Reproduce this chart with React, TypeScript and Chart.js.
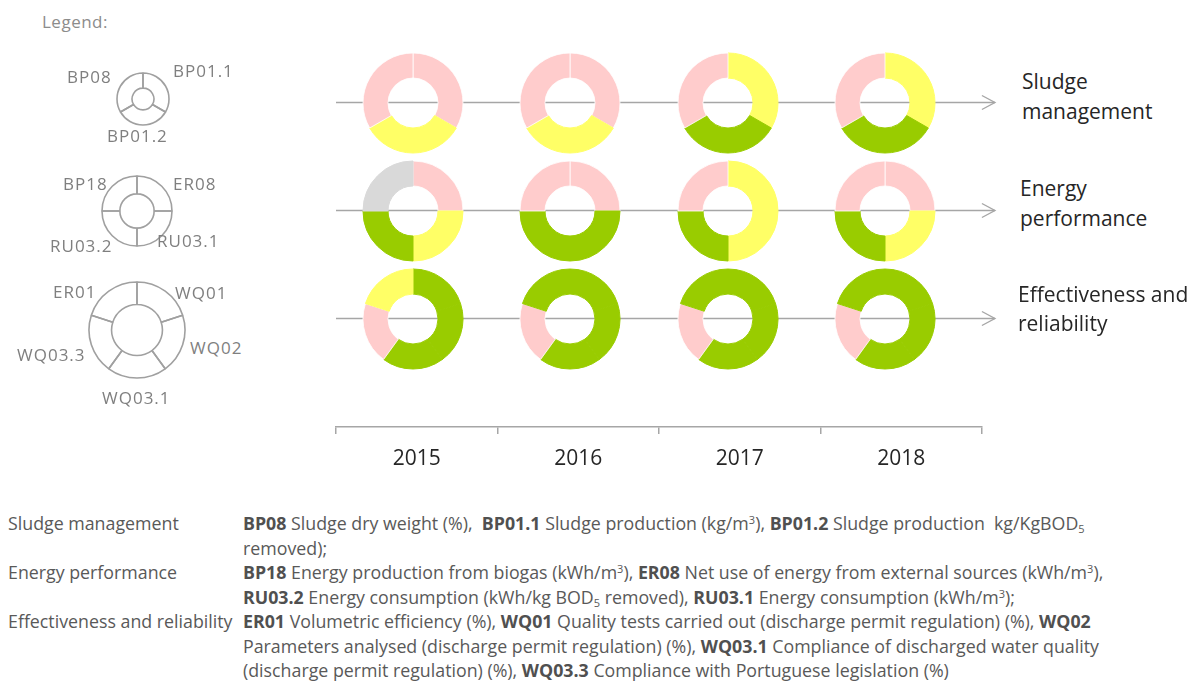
import React, { useEffect, useRef } from 'react';
import { Chart, registerables } from 'chart.js';

Chart.register(...registerables);

// ---------------- DATA ----------------
const YEARS = ['2015', '2016', '2017', '2018'];
const GROUPS = ['Sludge management', 'Energy performance', 'Effectiveness and reliability'];

// indicators, clockwise from 12 o'clock
const SLUDGE_INDICATORS = ['BP01.1', 'BP01.2', 'BP08'];
const ENERGY_INDICATORS = ['ER08', 'RU03.1', 'RU03.2', 'BP18'];
const EFFECT_INDICATORS = ['WQ01', 'WQ02', 'WQ03.1', 'WQ03.3', 'ER01'];

// each indicator has the same share of its ring
const SLUDGE_WEIGHTS = [1, 1, 1];
const ENERGY_WEIGHTS = [1, 1, 1, 1];
const EFFECT_WEIGHTS = [1, 1, 1, 1, 1];

// status per year (G good, Y acceptable, R unsatisfactory, N no data)
const SLUDGE_STATUS = [
  ['R', 'Y', 'R'],
  ['R', 'Y', 'R'],
  ['Y', 'G', 'R'],
  ['Y', 'G', 'R'],
];
const ENERGY_STATUS = [
  ['R', 'Y', 'G', 'N'],
  ['R', 'G', 'G', 'R'],
  ['Y', 'Y', 'G', 'R'],
  ['R', 'Y', 'G', 'R'],
];
const EFFECT_STATUS = [
  ['G', 'G', 'G', 'R', 'Y'],
  ['G', 'G', 'G', 'R', 'G'],
  ['G', 'G', 'G', 'R', 'G'],
  ['G', 'G', 'G', 'R', 'G'],
];

const GROUP_ROWS = [0, 1, 2];

// ---------------- STYLE / LAYOUT ----------------
const STATUS_COLORS: Record<string, string> = {
  G: '#99CC00',
  Y: '#FFFF66',
  R: '#FFCCCC',
  N: '#D9D9D9',
};
const STATUS_BORDERS: Record<string, string> = {
  G: '#99CC00',
  Y: '#FFFF66',
  R: 'rgba(255,255,255,0.8)',
  N: '#D9D9D9',
};
const FONT = "'Open Sans', sans-serif";
const LINE_GRAY = '#a6a6a6';

const DONUT_X0 = 413;
const DONUT_DX = 157.4;
const DONUT_Y0 = 102.5;
const DONUT_DY = 108;
const DONUT_R = 50;

const ARROW_START = -0.5;
const ARROW_END = 3.58;

type DonutProps = {
  labels: string[];
  weights: number[];
  statuses?: string[];
  cx: number;
  cy: number;
  radius: number;
  cutout: string;
  outline?: boolean;
};

function Donut({ labels, weights, statuses, cx, cy, radius, cutout, outline }: DonutProps) {
  const ref = useRef<HTMLCanvasElement>(null);
  const size = Math.ceil(radius * 2 + 8);
  useEffect(() => {
    const chart = new Chart(ref.current as HTMLCanvasElement, {
      type: 'doughnut',
      data: {
        labels,
        datasets: [
          {
            data: weights,
            backgroundColor: outline
              ? 'rgba(255,255,255,0)'
              : (statuses || []).map((s) => STATUS_COLORS[s]),
            borderColor: outline ? '#a0a0a0' : (statuses || []).map((s) => STATUS_BORDERS[s]),
            borderWidth: outline ? 1.6 : 1,
          },
        ],
      },
      options: {
        responsive: false,
        animation: false,
        events: [],
        radius,
        cutout,
        plugins: { legend: { display: false }, tooltip: { enabled: false } },
      } as any,
    });
    return () => chart.destroy();
  }, []);
  return (
    <canvas
      ref={ref}
      width={size}
      height={size}
      style={{
        position: 'absolute',
        left: cx - size / 2,
        top: cy - size / 2,
        width: size,
        height: size,
      }}
    />
  );
}

const arrowHeads = {
  id: 'arrowHeads',
  afterDatasetsDraw(chart: any) {
    const ctx = chart.ctx;
    chart.data.datasets.forEach((ds: any, i: number) => {
      const pts = chart.getDatasetMeta(i).data;
      const tip = pts[pts.length - 1];
      ctx.save();
      ctx.strokeStyle = ds.borderColor;
      ctx.lineWidth = 1.4;
      ctx.beginPath();
      ctx.moveTo(tip.x - 13, tip.y - 7);
      ctx.lineTo(tip.x, tip.y);
      ctx.lineTo(tip.x - 13, tip.y + 7);
      ctx.stroke();
      ctx.restore();
    });
  },
};

function Timeline() {
  const ref = useRef<HTMLCanvasElement>(null);
  useEffect(() => {
    const chart = new Chart(ref.current as HTMLCanvasElement, {
      type: 'line',
      data: {
        datasets: GROUP_ROWS.map((r) => ({
          label: GROUPS[r],
          data: [
            { x: ARROW_START, y: r },
            { x: ARROW_END, y: r },
          ],
          borderColor: LINE_GRAY,
          borderWidth: 1.5,
          pointRadius: 0,
          clip: false,
        })),
      },
      options: {
        responsive: false,
        animation: false,
        events: [],
        layout: { padding: { left: 36, right: 38, top: 20, bottom: 13 } },
        plugins: { legend: { display: false }, tooltip: { enabled: false } },
        scales: {
          x: {
            type: 'linear',
            min: -0.5,
            max: 3.5,
            afterBuildTicks: (s: any) => {
              s.ticks = YEARS.map((_, i) => ({ value: i }));
            },
            afterFit: (s: any) => {
              s.height = 60;
            },
            ticks: {
              callback: (v: any) => YEARS[v] ?? '',
              font: { family: FONT, size: 21 },
              color: '#262626',
              padding: 12,
              maxRotation: 0,
              autoSkip: false,
            },
            grid: {
              offset: true,
              drawOnChartArea: false,
              drawTicks: true,
              tickLength: 7,
              color: LINE_GRAY,
              lineWidth: 1.5,
            },
            border: { display: true, color: LINE_GRAY, width: 1.5 },
          },
          y: {
            type: 'linear',
            display: false,
            reverse: true,
            min: -0.5787,
            max: 3.0046,
          },
        },
      } as any,
      plugins: [arrowHeads],
    });
    return () => chart.destroy();
  }, []);
  return (
    <canvas
      ref={ref}
      width={720}
      height={480}
      style={{ position: 'absolute', left: 300, top: 20, width: 720, height: 480 }}
    />
  );
}

function Txt({
  x,
  y,
  size,
  color,
  children,
  weight,
  spacing,
}: {
  x: number;
  y: number;
  size: number;
  color: string;
  children: React.ReactNode;
  weight?: number;
  spacing?: number;
}) {
  return (
    <div
      style={{
        position: 'absolute',
        left: x,
        top: y - 0.888 * size,
        fontFamily: FONT,
        fontSize: size,
        lineHeight: 1,
        color,
        whiteSpace: 'nowrap',
        fontWeight: weight || 400,
        letterSpacing: spacing || 0,
      }}
    >
      {children}
    </div>
  );
}

const sup = (t: string) => (
  <sup style={{ fontSize: '0.62em', lineHeight: 0, verticalAlign: '0.5em' }}>{t}</sup>
);
const sub = (t: string) => (
  <sub style={{ fontSize: '0.62em', lineHeight: 0, verticalAlign: '-0.25em' }}>{t}</sub>
);
const B = ({ children }: { children: React.ReactNode }) => (
  <b style={{ fontWeight: 700, color: '#505050' }}>{children}</b>
);

const NOTE_LINES: React.ReactNode[] = [
  <>
    <B>BP08</B> Sludge dry weight (%),&nbsp; <B>BP01.1</B> Sludge production (kg/m{sup('3')}), <B>BP01.2</B> Sludge
    production&nbsp; kg/KgBOD{sub('5')}
  </>,
  <>removed);</>,
  <>
    <B>BP18</B> Energy production from biogas (kWh/m{sup('3')}), <B>ER08</B> Net use of energy from external sources
    (kWh/m{sup('3')}),
  </>,
  <>
    <B>RU03.2</B> Energy consumption (kWh/kg BOD{sub('5')} removed), <B>RU03.1</B> Energy consumption (kWh/m{sup('3')});
  </>,
  <>
    <B>ER01</B> Volumetric efficiency (%), <B>WQ01</B> Quality tests carried out (discharge permit regulation) (%),{' '}
    <B>WQ02</B>
  </>,
  <>
    Parameters analysed (discharge permit regulation) (%), <B>WQ03.1</B> Compliance of discharged water quality
  </>,
  <>
    (discharge permit regulation) (%), <B>WQ03.3</B> Compliance with Portuguese legislation (%)
  </>,
];
const NOTE_GROUP_LINE = [0, 2, 4];

export default function App() {
  const legendGray = '#7f7f7f';
  const noteGray = '#595959';
  const noteSize = 17.8;
  const noteBase = 531;
  const noteStep = 24.5;
  return (
    <div
      style={{
        position: 'absolute',
        left: 0,
        top: 0,
        width: 1195,
        height: 682,
        background: '#ffffff',
        overflow: 'hidden',
      }}
    >
      <Timeline />

      {YEARS.map((y, i) => (
        <React.Fragment key={y}>
          <Donut
            labels={SLUDGE_INDICATORS}
            weights={SLUDGE_WEIGHTS}
            statuses={SLUDGE_STATUS[i]}
            cx={DONUT_X0 + i * DONUT_DX}
            cy={DONUT_Y0}
            radius={DONUT_R}
            cutout="50%"
          />
          <Donut
            labels={ENERGY_INDICATORS}
            weights={ENERGY_WEIGHTS}
            statuses={ENERGY_STATUS[i]}
            cx={DONUT_X0 + i * DONUT_DX}
            cy={DONUT_Y0 + DONUT_DY}
            radius={DONUT_R}
            cutout="50%"
          />
          <Donut
            labels={EFFECT_INDICATORS}
            weights={EFFECT_WEIGHTS}
            statuses={EFFECT_STATUS[i]}
            cx={DONUT_X0 + i * DONUT_DX}
            cy={DONUT_Y0 + 2 * DONUT_DY}
            radius={DONUT_R}
            cutout="50%"
          />
        </React.Fragment>
      ))}

      {/* legend diagrams */}
      <Donut labels={SLUDGE_INDICATORS} weights={SLUDGE_WEIGHTS} cx={142.5} cy={99} radius={26} cutout="42%" outline />
      <Donut labels={ENERGY_INDICATORS} weights={ENERGY_WEIGHTS} cx={137} cy={211} radius={35} cutout="49%" outline />
      <Donut labels={EFFECT_INDICATORS} weights={EFFECT_WEIGHTS} cx={137} cy={330} radius={48} cutout="53%" outline />

      <Txt x={42} y={28} size={17} color="#8c8c8c" spacing={0.5}>Legend:</Txt>
      <Txt x={67} y={83} size={17} color={legendGray} spacing={1}>BP08</Txt>
      <Txt x={173} y={77} size={17} color={legendGray} spacing={1}>BP01.1</Txt>
      <Txt x={107} y={142} size={17} color={legendGray} spacing={1}>BP01.2</Txt>
      <Txt x={63} y={190} size={17} color={legendGray} spacing={1}>BP18</Txt>
      <Txt x={173} y={190} size={17} color={legendGray} spacing={1}>ER08</Txt>
      <Txt x={50} y={252} size={17} color={legendGray} spacing={1}>RU03.2</Txt>
      <Txt x={157} y={247} size={17} color={legendGray} spacing={1}>RU03.1</Txt>
      <Txt x={53} y={298} size={17} color={legendGray} spacing={1}>ER01</Txt>
      <Txt x={175} y={299} size={17} color={legendGray} spacing={1}>WQ01</Txt>
      <Txt x={190} y={354} size={17} color={legendGray} spacing={1}>WQ02</Txt>
      <Txt x={17} y={361} size={17} color={legendGray} spacing={1}>WQ03.3</Txt>
      <Txt x={102} y={404} size={17} color={legendGray} spacing={1}>WQ03.1</Txt>

      {/* group labels on the right */}
      <Txt x={1022} y={90} size={21} color="#262626">Sludge</Txt>
      <Txt x={1022} y={120} size={21} color="#262626">management</Txt>
      <Txt x={1020} y={197} size={21} color="#262626">Energy</Txt>
      <Txt x={1020} y={227} size={21} color="#262626">performance</Txt>
      <Txt x={1018} y={303} size={21} color="#262626">Effectiveness and</Txt>
      <Txt x={1018} y={332} size={21} color="#262626">reliability</Txt>

      {/* notes */}
      {GROUPS.map((g, i) => (
        <Txt key={g} x={8} y={noteBase + NOTE_GROUP_LINE[i] * noteStep} size={noteSize} color={noteGray}>
          {g}
        </Txt>
      ))}
      {NOTE_LINES.map((l, i) => (
        <Txt key={i} x={243} y={noteBase + i * noteStep} size={noteSize} color={noteGray}>
          {l}
        </Txt>
      ))}
    </div>
  );
}
